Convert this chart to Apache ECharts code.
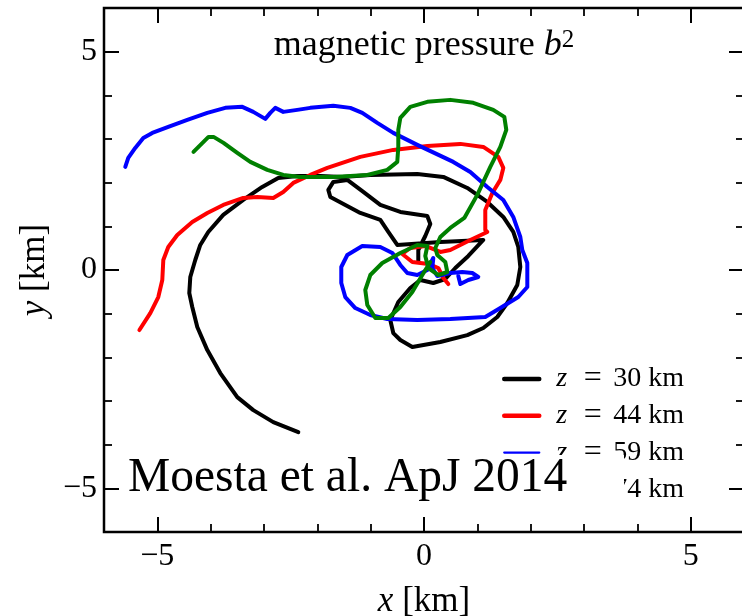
<!DOCTYPE html>
<html>
<head>
<meta charset="utf-8">
<script src="https://cdn.jsdelivr.net/npm/echarts@6.0.0/dist/echarts.min.js"></script>
<style>
  html, body { margin: 0; padding: 0; background: #fff; }
  #chart { width: 742px; height: 616px; }
</style>
</head>
<body>
<div id="chart"></div>
<script>
// ---- data (x [km], y [km]) ----
const seriesNames = ['z = 30 km', 'z = 44 km', 'z = 59 km', 'z = 74 km'];
const seriesColors = ['#000000', '#ff0000', '#0000ff', '#008000'];
const majorTicks = [-5, 0, 5];

const z30 = [
  [-2.357,-3.713],[-2.826,-3.484],[-3.201,-3.209],[-3.501,-2.911],[-3.820,-2.361],[-4.063,-1.834],
  [-4.251,-1.306],[-4.345,-0.848],[-4.401,-0.527],[-4.382,-0.160],[-4.289,0.229],[-4.195,0.573],
  [-4.045,0.871],[-3.764,1.261],[-3.389,1.604],[-3.033,1.902],[-2.733,2.109],[-2.377,2.154],
  [-1.944,2.154],[-1.532,2.132],[-1.007,2.177],[-0.126,2.200],[0.362,2.132],[0.812,1.879],
  [1.187,1.559],[1.487,1.215],[1.674,0.871],[1.768,0.527],[1.806,0.069],[1.749,-0.344],
  [1.562,-0.756],[1.374,-1.077],[1.112,-1.329],[0.812,-1.490],[0.306,-1.650],[-0.219,-1.765],
  [-0.444,-1.604],[-0.576,-1.444],[-0.632,-1.146],[-0.482,-0.733],[-0.257,-0.413],[-0.069,-0.229],
  [0.174,-0.298],[0.399,-0.206],[0.587,0.046],[0.831,0.321],[1.112,0.688],[0.306,0.642],
  [-0.501,0.573],[-0.669,0.871],[-0.819,1.146],[-1.194,1.306],[-1.756,1.673],[-1.794,1.834],
  [-1.700,2.017],[-1.438,2.063],[-1.138,1.788],[-0.819,1.490],[-0.444,1.329],[0.062,1.238],
  [0.118,1.054],[0.024,0.779],[-0.107,0.458],[-0.107,0.183]
];
const z44 = [
  [-5.336,-1.375],[-5.132,-0.986],[-4.982,-0.619],[-4.907,-0.229],[-4.888,0.229],[-4.795,0.527],
  [-4.626,0.802],[-4.345,1.100],[-4.063,1.306],[-3.764,1.490],[-3.389,1.650],[-3.126,1.673],
  [-2.826,1.650],[-2.639,1.788],[-2.451,1.994],[-2.132,2.177],[-1.813,2.338],[-1.194,2.590],
  [-0.576,2.750],[0.062,2.842],[0.681,2.888],[1.112,2.819],[1.393,2.590],[1.487,2.338],
  [1.431,2.063],[1.281,1.765],[1.149,1.375],[1.149,0.917],[1.187,0.871],[0.868,0.688],
  [0.493,0.458],[0.306,0.413],[0.024,0.550],[-0.257,0.504],[-0.407,0.367],[-0.219,0.183],
  [0.081,0.138],[0.268,0.046],[0.362,-0.183],[0.456,-0.321]
];
const z59 = [
  [-5.601,2.361],[-5.545,2.567],[-5.414,2.796],[-5.263,3.025],[-5.095,3.140],[-4.795,3.278],
  [-4.438,3.438],[-4.063,3.598],[-3.726,3.713],[-3.407,3.736],[-3.201,3.621],[-2.976,3.461],
  [-2.882,3.598],[-2.788,3.713],[-2.638,3.621],[-2.376,3.667],[-2.132,3.713],[-1.701,3.759],
  [-1.382,3.713],[-1.157,3.598],[-0.876,3.369],[-0.576,3.140],[-0.126,2.865],[0.549,2.475],
  [0.868,2.246],[1.187,1.902],[1.487,1.604],[1.674,1.215],[1.806,0.756],[1.843,0.458],
  [1.937,0.160],[1.937,-0.390],[1.768,-0.619],[1.431,-0.871],[1.149,-1.077],[0.493,-1.123],
  [-0.126,-1.146],[-0.688,-1.123],[-1.007,-1.031],[-1.288,-0.871],[-1.476,-0.619],[-1.551,-0.298],
  [-1.551,0.069],[-1.438,0.344],[-1.157,0.550],[-0.819,0.527],[-0.594,0.390],[-0.444,0.115],
  [-0.313,-0.069],[-0.126,-0.115],[0.062,0.000],[0.174,0.275],[0.156,0.046],[0.249,-0.138],
  [0.493,-0.069],[0.718,-0.046],[0.906,-0.069],[1.018,-0.160],[0.831,-0.229],[0.681,-0.321],
  [0.643,-0.138]
];
const z74 = [
  [-4.322,2.705],[-4.040,3.048],[-3.946,3.048],[-3.759,2.911],[-3.501,2.682],[-3.257,2.475],
  [-2.938,2.292],[-2.638,2.177],[-2.320,2.132],[-1.701,2.132],[-1.063,2.177],[-0.688,2.292],
  [-0.501,2.475],[-0.482,2.819],[-0.482,3.209],[-0.444,3.484],[-0.257,3.736],[0.062,3.851],
  [0.493,3.896],[0.924,3.828],[1.299,3.667],[1.506,3.507],[1.543,3.209],[1.431,2.819],
  [1.243,2.361],[0.999,1.720],[0.756,1.192],[0.493,0.963],[0.306,0.756],[0.212,0.504],
  [0.249,0.344],[0.399,0.183],[0.437,-0.046],[0.268,-0.115],[0.081,0.046],[0.024,0.321],
  [0.062,0.550],[-0.126,0.573],[-0.444,0.390],[-0.782,0.160],[-1.007,-0.115],[-1.101,-0.458],
  [-1.063,-0.802],[-0.913,-1.100],[-0.669,-1.100],[-0.444,-0.848],[-0.219,-0.504],[-0.032,-0.115],
  [0.118,0.183]
];
const allSeries = [z30, z44, z59, z74];
const legendLineWidths = [4.5, 4.5, 2.3, 2.3];

// ---- chart ----
const F = 'Liberation Serif';
const chart = echarts.init(document.getElementById('chart'), null, { renderer: 'canvas' });
const fmtTick = v => (v < 0 ? '\u2212' + Math.abs(v) : String(v));

function minorAxis(gridIndex, position) {
  return {
    type: 'value', gridIndex, position, min: -6, max: 6, interval: 1,
    axisLine: { show: false, onZero: false },
    axisTick: { show: true, inside: true, length: 8, lineStyle: { color: '#000', width: 1.8 } },
    axisLabel: { show: false },
    splitLine: { show: false }
  };
}
function majorAxis(gridIndex, position, showLabel, extra) {
  return Object.assign({
    type: 'value', gridIndex, position, min: -6, max: 6,
    axisLine: { show: false, onZero: false },
    axisTick: { show: true, inside: true, length: 15, customValues: majorTicks, lineStyle: { color: '#000', width: 2 } },
    axisLabel: {
      show: showLabel, customValues: majorTicks, formatter: fmtTick,
      fontFamily: F, fontSize: 32, color: '#000',
      margin: (position === 'bottom' || position === 'top') ? 9 : 7
    },
    splitLine: { show: false }
  }, extra || {});
}

const gridBox = { left: 104, right: -2, top: 8, bottom: 84, outerBoundsMode: 'none', containLabel: false };
const LH = 26;

const option = {
  backgroundColor: '#ffffff',
  animation: false,
  grid: [
    Object.assign({ show: false }, gridBox),
    Object.assign({ show: true, borderColor: '#000', borderWidth: 2.5, backgroundColor: 'transparent' }, gridBox)
  ],
  xAxis: [
    minorAxis(0, 'bottom'),
    minorAxis(0, 'top'),
    majorAxis(1, 'bottom', true, {
      name: '{i|x} [km]', nameLocation: 'middle', nameGap: 52,
      nameTextStyle: { fontFamily: F, fontSize: 35, color: '#000',
        rich: { i: { fontFamily: F, fontSize: 35, fontStyle: 'italic', color: '#000' } } }
    }),
    majorAxis(1, 'top', false)
  ],
  yAxis: [
    minorAxis(0, 'left'),
    minorAxis(0, 'right'),
    majorAxis(1, 'left', true, {
      name: '{i|y} [km]', nameLocation: 'middle', nameGap: 51,
      nameTextStyle: { fontFamily: F, fontSize: 35, color: '#000',
        rich: { i: { fontFamily: F, fontSize: 35, fontStyle: 'italic', color: '#000' } } }
    }),
    majorAxis(1, 'right', false)
  ],
  legend: {
    orient: 'vertical', left: 502, top: 363, padding: 0,
    itemWidth: 35, itemHeight: 12, itemGap: 4.8,
    selectedMode: false,
    itemStyle: { opacity: 0, borderWidth: 0 },
    data: seriesNames.map((n, i) => ({ name: n, itemStyle: { opacity: 0, borderWidth: 0 }, lineStyle: { width: legendLineWidths[i] } })),
    formatter: name => {
      const num = name.replace(/[^0-9]/g, '');
      return '{z|z}{e|=}{n|' + num + '}{k|km}';
    },
    textStyle: {
      fontFamily: F, fontSize: 28, color: '#000', lineHeight: LH, height: LH,
      rich: {
        z: { fontFamily: F, fontSize: 28, fontStyle: 'italic', color: '#000', width: 14, lineHeight: LH, padding: [0, 12, 0, 12] },
        e: { fontFamily: F, fontSize: 32, color: '#000', width: 21, align: 'center', lineHeight: LH, padding: [0, 8, 0, 0] },
        n: { fontFamily: F, fontSize: 28, color: '#000', width: 32, lineHeight: LH, padding: [0, 5, 0, 0] },
        k: { fontFamily: F, fontSize: 28, color: '#000', lineHeight: LH }
      }
    }
  },
  graphic: [
    {
      type: 'text', z: 100,
      style: {
        text: 'magnetic pressure {b|b}{s|2}', x: 424, y: 46,
        align: 'center', verticalAlign: 'middle',
        fontFamily: F, fontSize: 36, fill: '#000',
        rich: {
          b: { fontFamily: F, fontSize: 36, fontStyle: 'italic', fill: '#000', color: '#000' },
          s: { fontFamily: F, fontSize: 25, fill: '#000', color: '#000', verticalAlign: 'top', padding: [0, 0, 8, 0] }
        }
      }
    },
    {
      type: 'rect', z: 100,
      shape: { x: 122, y: 455, width: 502, height: 57 },
      style: { fill: '#ffffff' }
    },
    {
      type: 'text', z: 101,
      style: {
        text: 'Moesta et al. ApJ 2014', x: 128, y: 479,
        align: 'left', verticalAlign: 'middle',
        fontFamily: F, fontSize: 47.5, fill: '#000'
      }
    }
  ],
  series: allSeries.map((d, i) => ({
    name: seriesNames[i], type: 'line', xAxisIndex: 2, yAxisIndex: 2,
    data: d, symbol: 'none', showSymbol: false, smooth: false,
    lineStyle: { color: seriesColors[i], width: 4, join: 'round', cap: 'round' },
    itemStyle: { color: seriesColors[i] },
    emphasis: { disabled: true }
  }))
};
chart.setOption(option);
</script>
</body>
</html>
